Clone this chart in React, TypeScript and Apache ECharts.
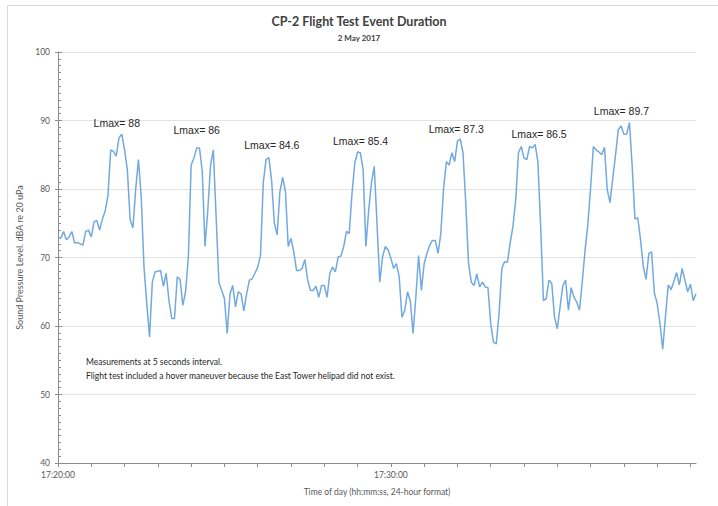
import React, { useEffect, useRef } from "react";
import * as echarts from "echarts";

// 5-second samples starting 17:20:00
const START_LABEL_HOUR = 17;
const START_LABEL_MIN = 20;
const SAMPLE_SECONDS = 5;

const splValues: number[] = [
  73.0, 72.8, 73.8, 72.6, 73.0, 73.8, 72.1, 72.2, 72.0, 71.8,
  73.8, 74.0, 73.0, 75.2, 75.4, 74.0, 75.6, 76.8, 79.0, 85.7,
  85.5, 84.8, 87.5, 88.0, 85.7, 82.8, 75.5, 74.3, 79.9, 84.3,
  78.9, 68.6, 63.3, 58.4, 66.4, 67.9, 68.0, 68.1, 65.8, 67.7,
  63.7, 61.1, 61.1, 67.2, 66.8, 63.0, 65.0, 70.1, 83.5, 84.5,
  86.0, 86.0, 82.6, 71.6, 76.9, 83.5, 85.7, 76.0, 66.4, 65.2,
  64.0, 58.9, 64.7, 65.9, 62.8, 65.0, 64.7, 62.2, 64.7, 66.7,
  66.9, 67.7, 68.6, 70.3, 80.9, 84.3, 84.6, 81.3, 75.0, 73.3,
  79.6, 81.7, 79.6, 71.6, 72.8, 70.8, 68.1, 68.1, 68.4, 69.7,
  66.7, 65.2, 65.2, 65.8, 64.2, 65.9, 65.9, 64.2, 67.7, 68.6,
  67.9, 70.1, 70.2, 71.6, 73.8, 73.5, 79.4, 83.8, 85.4, 85.3,
  82.8, 71.6, 76.9, 80.9, 83.3, 75.0, 66.4, 70.1, 71.6, 71.1,
  69.9, 68.4, 69.1, 67.2, 61.3, 62.3, 65.0, 63.7, 58.9, 64.2,
  70.3, 65.2, 69.1, 70.6, 71.8, 72.5, 72.5, 70.6, 73.5, 80.1,
  84.0, 83.5, 85.3, 84.0, 87.0, 87.3, 85.3, 77.9, 69.1, 66.4,
  65.9, 67.6, 65.7, 66.4, 65.7, 65.6, 60.3, 57.6, 57.4, 61.8,
  68.4, 69.4, 69.3, 72.1, 74.5, 78.4, 85.3, 86.2, 84.5, 84.3,
  86.2, 86.0, 86.5, 84.0, 74.5, 63.7, 64.0, 66.7, 66.2, 61.3,
  59.6, 62.8, 65.9, 66.7, 62.3, 65.6, 64.2, 63.5, 62.3, 66.5,
  71.0, 74.8, 80.1, 86.2, 85.7, 85.4, 85.0, 86.1, 79.9, 78.0,
  81.6, 85.0, 88.7, 89.2, 88.0, 88.0, 89.7, 83.3, 75.6, 75.8,
  72.6, 68.7, 66.8, 70.6, 70.8, 64.8, 63.3, 60.4, 56.6, 61.4,
  66.0, 65.3, 66.5, 67.8, 66.0, 68.4, 66.7, 65.0, 66.1, 63.7,
  64.7,
];

// Lmax annotations: sample index of each event peak and its text
const lmaxPeakIndex: number[] = [23, 50, 76, 108, 145, 172, 206];
const lmaxText: string[] = [
  "Lmax= 88",
  "Lmax= 86",
  "Lmax= 84.6",
  "Lmax= 85.4",
  "Lmax= 87.3",
  "Lmax= 86.5",
  "Lmax= 89.7",
];
const lmaxLabelOffset: [number, number][] = [
  [-5, -11],
  [0, -18],
  [3, -12],
  [3, -11],
  [-4, -10],
  [4, -10],
  [-8, -12],
];

const yTicks = { min: 40, max: 100, interval: 10 };
const xAxisSeconds = { min: 0, interval: 60, labelEvery: 600 };

const titleText = "CP-2 Flight Test Event Duration";
const subtitleText = "2 May 2017";
const yAxisName = "Sound Pressure Level. dBA re 20 uPa";
const xAxisName = "Time of day (hh:mm:ss, 24-hour format)";
const noteLines: string[] = [
  "Measurements at 5 seconds interval.",
  "Flight test included a hover maneuver because the East Tower helipad did not exist.",
];

const FONT = "Lato, 'Noto Sans', sans-serif";

function fmtTime(sec: number): string {
  const total = START_LABEL_HOUR * 3600 + START_LABEL_MIN * 60 + sec;
  const h = Math.floor(total / 3600);
  const m = Math.floor((total % 3600) / 60);
  const s = total % 60;
  const p = (n: number) => String(n).padStart(2, "0");
  return `${p(h)}:${p(m)}:${p(s)}`;
}

export default function App() {
  const ref = useRef<HTMLDivElement>(null);

  useEffect(() => {
    document.body.style.margin = "0";
    if (!ref.current) return;
    const chart = echarts.init(ref.current, undefined, { renderer: "svg" });

    const seriesData = splValues.map((v, i) => [i * SAMPLE_SECONDS, v]);
    const xMax = (splValues.length - 1) * SAMPLE_SECONDS;

    const markData = lmaxPeakIndex.map((idx, k) => ({
      coord: [idx * SAMPLE_SECONDS, splValues[idx]],
      value: lmaxText[k],
      label: { offset: lmaxLabelOffset[k] },
    }));

    const axisColor = "#8c8c8c";
    const labelColor = "#595959";

    chart.setOption({
      animation: false,
      backgroundColor: "#ffffff",
      title: [
        {
          text: titleText,
          left: "center",
          top: 10,
          textStyle: { fontFamily: FONT, fontSize: 12.5, fontWeight: "bold", color: "#404040" },
        },
        {
          text: subtitleText,
          left: "center",
          top: 29,
          textStyle: { fontFamily: FONT, fontSize: 8, fontWeight: "bold", color: "#404040" },
        },
      ],
      grid: { left: 58, right: 22, top: 52, bottom: 43, containLabel: false },
      xAxis: {
        type: "value",
        min: xAxisSeconds.min,
        max: xMax,
        interval: xAxisSeconds.interval,
        name: xAxisName,
        nameLocation: "middle",
        nameGap: 24,
        nameTextStyle: { fontFamily: FONT, fontSize: 8.5, color: labelColor },
        axisLine: { show: true, lineStyle: { color: axisColor, width: 1 } },
        axisTick: { show: true, length: 4, lineStyle: { color: axisColor } },
        splitLine: { show: false },
        axisLabel: {
          fontFamily: FONT,
          fontSize: 8.5,
          color: labelColor,
          margin: 7,
          showMaxLabel: false,
          formatter: (v: number) => (v % xAxisSeconds.labelEvery === 0 ? fmtTime(v) : ""),
        },
      },
      yAxis: [
        {
          type: "value",
          min: yTicks.min,
          max: yTicks.max,
          interval: yTicks.interval,
          name: yAxisName,
          nameLocation: "middle",
          nameGap: 31,
          nameTextStyle: { fontFamily: FONT, fontSize: 9, color: labelColor },
          axisLine: { show: true, lineStyle: { color: axisColor, width: 1 } },
          axisTick: { show: true, inside: true, length: 4, lineStyle: { color: axisColor } },
          minorTick: { show: true, splitNumber: 10, length: 3, lineStyle: { color: axisColor } },
          splitLine: { show: true, lineStyle: { color: "#e3e3e3", width: 1 } },
          axisLabel: { fontFamily: FONT, fontSize: 8.5, color: labelColor, margin: 8 },
        },
        {
          type: "value",
          position: "left",
          min: yTicks.min,
          max: yTicks.max,
          interval: yTicks.interval,
          axisLine: { show: false },
          axisTick: { show: true, inside: false, length: 3, lineStyle: { color: axisColor } },
          splitLine: { show: false },
          axisLabel: { show: false },
        },
      ],
      series: [
        {
          type: "line",
          data: seriesData,
          showSymbol: false,
          symbol: "none",
          lineStyle: { color: "#72a9df", width: 1.5 },
          itemStyle: { color: "#72a9df" },
          markPoint: {
            symbol: "circle",
            symbolSize: 0,
            itemStyle: { color: "rgba(0,0,0,0)" },
            label: {
              show: true,
              position: "inside",
              formatter: (p: any) => p.value,
              fontFamily: "'Liberation Sans', Arial, sans-serif",
              fontSize: 10.5,
              color: "#262626",
            },
            data: markData,
          },
        },
      ],
      graphic: [
        {
          type: "rect",
          left: 5,
          top: 3,
          shape: { width: 712, height: 502 },
          style: { fill: "none", stroke: "#d9d9d9", lineWidth: 1 },
          silent: true,
        },
        ...noteLines.map((t, i) => ({
          type: "text",
          left: 86,
          top: 357 + i * 14,
          style: { text: t, fontFamily: FONT, fontSize: 8.5, fill: "#262626" },
        })),
      ],
    });

    return () => chart.dispose();
  }, []);

  return <div ref={ref} style={{ width: 718, height: 506 }} />;
}
